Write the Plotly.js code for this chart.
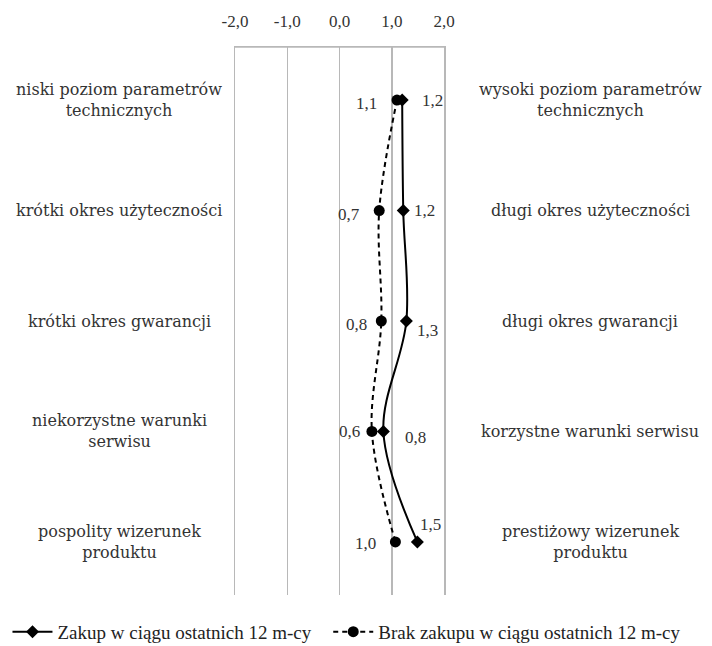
<!DOCTYPE html>
<html>
<head>
<meta charset="utf-8">
<script src="https://cdn.plot.ly/plotly-3.0.1.min.js"></script>
<style>html,body{margin:0;padding:0;background:#fff;}#chart{width:712px;height:646px;}</style>
</head>
<body>
<div id="chart"></div>
<script>
const rows = [0, 1, 2, 3, 4];
const leftLabels = ["niski poziom parametrów<br>technicznych", "krótki okres użyteczności", "krótki okres gwarancji", "niekorzystne warunki<br>serwisu", "pospolity wizerunek<br>produktu"];
const rightLabels = ["wysoki poziom parametrów<br>technicznych", "długi okres użyteczności", "długi okres gwarancji", "korzystne warunki serwisu", "prestiżowy wizerunek<br>produktu"];
const zakup = [1.2, 1.22, 1.28, 0.84, 1.49];
const brak = [1.1, 0.76, 0.8, 0.62, 1.07];
const zakupLabels = ["1,2", "1,2", "1,3", "0,8", "1,5"];
const brakLabels = ["1,1", "0,7", "0,8", "0,6", "1,0"];
const tickVals = [-2, -1, 0, 1, 2];
const tickText = ["-2,0", "-1,0", "0,0", "1,0", "2,0"];
const seriesNames = ["Zakup w ciągu ostatnich 12 m-cy", "Brak zakupu w ciągu ostatnich 12 m-cy"];

const serif = "Liberation Serif, Times New Roman, serif";
const labelFont = {family: "DejaVu Serif, serif", size: 16, color: "#333"};
const valFont = {family: serif, size: 17, color: "#333"};
const legFont = {family: serif, size: 19, color: "#222"};
const grid = "#b8b8b8";

const traces = [
  {x: zakup, y: rows, name: seriesNames[0], type: "scatter", mode: "lines+markers", legend: "legend",
   line: {color: "#000", width: 2, shape: "spline"},
   marker: {symbol: "diamond", size: 10, color: "#000"}},
  {x: brak, y: rows, name: seriesNames[1], type: "scatter", mode: "lines+markers", legend: "legend2",
   line: {color: "#000", width: 2, dash: "5px,4px", shape: "spline"},
   marker: {symbol: "circle", size: 11, color: "#000"}}
];

const annotations = [];
const zShift = [[30, 0], [21, 0], [21, -9], [32, -6], [13, 17]];
const bShift = [[-30, -3], [-30, -4], [-25, -3], [-22, 0], [-30, -2]];
rows.forEach((r, i) => {
  annotations.push({x: -0.553, xref: "paper", y: r, yref: "y", text: leftLabels[i], showarrow: false, font: labelFont, align: "center", xanchor: "center", yanchor: "middle"});
  annotations.push({x: 1.70, xref: "paper", y: r, yref: "y", text: rightLabels[i], showarrow: false, font: labelFont, align: "center", xanchor: "center", yanchor: "middle"});
  annotations.push({x: zakup[i], y: r, xref: "x", yref: "y", text: zakupLabels[i], showarrow: false, font: valFont, xshift: zShift[i][0], yshift: zShift[i][1]});
  annotations.push({x: brak[i], y: r, xref: "x", yref: "y", text: brakLabels[i], showarrow: false, font: valFont, xshift: bShift[i][0], yshift: bShift[i][1]});
});

const legendBase = {orientation: "h", xref: "container", yref: "container", xanchor: "left", yanchor: "middle",
  y: 0.022, font: legFont, itemwidth: 40, bgcolor: "rgba(0,0,0,0)"};

const layout = {
  width: 712, height: 646,
  margin: {l: 234.5, r: 267.5, t: 47, b: 51},
  paper_bgcolor: "#fff", plot_bgcolor: "#fff",
  showlegend: true,
  legend: Object.assign({}, legendBase, {x: 0.0105}),
  legend2: Object.assign({}, legendBase, {x: 0.461}),
  xaxis: {range: [-2, 2], side: "top", tickvals: tickVals, ticktext: tickText,
          showgrid: true, gridcolor: grid, gridwidth: 1.5, zeroline: false,
          showline: true, linecolor: grid, linewidth: 1.5, ticks: "", ticklabelstandoff: 12,
          tickfont: {family: serif, size: 17, color: "#333"}, fixedrange: true},
  yaxis: {range: [4.48, -0.48], showgrid: false, zeroline: false, showticklabels: false,
          showline: true, mirror: true, linecolor: grid, linewidth: 1.5, ticks: "", fixedrange: true},
  shapes: [{type: "line", xref: "paper", yref: "paper", x0: 0, x1: 1, y0: 1, y1: 1, line: {color: grid, width: 1.5}}],
  annotations: annotations
};

Plotly.newPlot("chart", traces, layout, {displayModeBar: false, staticPlot: true});
</script>
</body>
</html>
